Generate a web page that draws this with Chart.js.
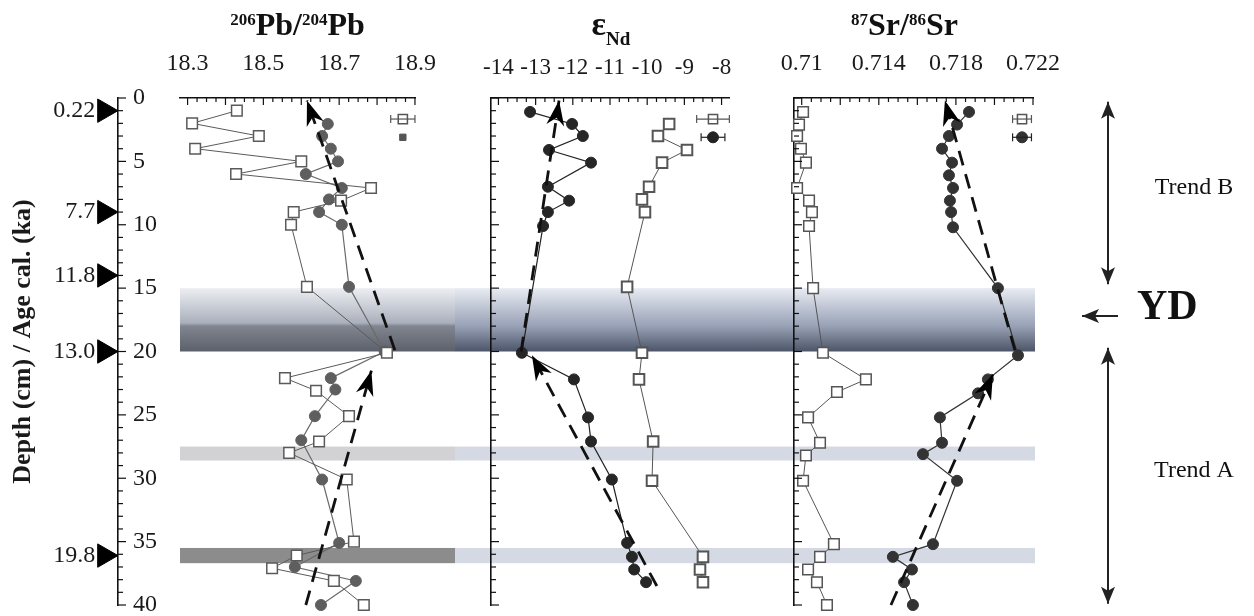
<!DOCTYPE html>
<html>
<head>
<meta charset="utf-8">
<script src="https://cdn.jsdelivr.net/npm/chart.js@4.4.1/dist/chart.umd.min.js"></script>
<style>
    html, body { margin: 0; padding: 0; background: #fff; }
    #wrap { position: relative; width: 1254px; height: 616px; overflow: hidden; }
    canvas { position: absolute; top: 0; }
</style>
</head>
<body>
<div id="wrap">
    <canvas id="depthChart" width="175" height="640" style="left:0px"></canvas>
    <canvas id="pbChart" width="300" height="616" style="left:155px"></canvas>
    <canvas id="ndChart" width="305" height="616" style="left:455px"></canvas>
    <canvas id="srChart" width="494" height="616" style="left:760px"></canvas>
</div>
<script>
// depth axis + calibrated ages
const depthTicks = [0, 5, 10, 15, 20, 25, 30, 35, 40];
const ageLabels = ["0.22", "7.7", "11.8", "13.0", "19.8"];
const ageDepths = [1.0, 9.0, 14.0, 20.0, 36.1];

// shaded horizons (depth cm)
const bandTop = [15, 27.5, 35.5];
const bandBottom = [20, 28.6, 36.7];

// 206Pb/204Pb
const pbTickLabels = [18.3, 18.5, 18.7, 18.9];
const pbSqDepth = [1, 2, 3, 4, 5, 6, 7.1, 8.1, 9, 10, 14.9, 20.1, 22.1, 23.1, 25.1, 27.1, 28, 30.1, 35, 36.1, 37.1, 38.1, 40];
const pbSq = [18.43, 18.312, 18.488, 18.32, 18.60, 18.428, 18.784, 18.705, 18.58, 18.573, 18.615, 18.826, 18.557, 18.639, 18.726, 18.647, 18.568, 18.72, 18.739, 18.588, 18.523, 18.686, 18.765];
const pbCiDepth = [2.05, 3, 4, 5, 6, 7.1, 8, 9, 10, 14.9, 20, 22.1, 23, 25.1, 27, 30.1, 35.1, 37, 38.1, 40];
const pbCi = [18.67, 18.655, 18.678, 18.697, 18.612, 18.707, 18.673, 18.647, 18.707, 18.726, 18.82, 18.678, 18.69, 18.636, 18.60, 18.655, 18.70, 18.583, 18.744, 18.652];
const pbTrendB = [18.847, 18.615];
const pbTrendBDepth = [19.9, 0.2];
const pbTrendA = [18.612, 18.785];
const pbTrendADepth = [40, 21.5];
const pbErr = [18.868, 0.032];

// eps Nd
const ndTickLabels = [-14, -13, -12, -11, -10, -9, -8];
const ndCiDepth = [1.1, 2.05, 3, 4.1, 5.1, 7, 8.1, 9, 10.1, 20.1, 22.2, 25.2, 27.1, 30.1, 35.1, 36.2, 37.2, 38.2];
const ndCi = [-13.15, -12.02, -11.73, -12.64, -11.51, -12.67, -12.10, -12.67, -12.80, -13.37, -11.97, -11.59, -11.51, -10.95, -10.54, -10.41, -10.35, -10.03];
const ndSqDepth = [2.05, 3, 4.1, 5.1, 7, 8, 9, 14.9, 20.1, 22.2, 27.1, 30.2, 36.2, 37.2, 38.2];
const ndSq = [-9.41, -9.71, -8.93, -9.60, -9.95, -10.14, -10.06, -10.54, -10.14, -10.22, -9.84, -9.87, -8.50, -8.58, -8.50];
const ndTrendB = [-13.39, -12.37];
const ndTrendBDepth = [20, 0.2];
const ndTrendA = [-9.74, -13.10];
const ndTrendADepth = [38.5, 20.3];
const ndErrSq = [-8.23, 0.44];
const ndErrCi = [-8.23, 0.32];

// 87Sr/86Sr
const srTickLabels = [0.71, 0.714, 0.718, 0.722];
const srCiDepth = [1.1, 2.1, 3, 4, 5.1, 6.1, 7.1, 8.1, 9, 10.2, 15, 20.3, 22.2, 23.3, 25.2, 27.2, 28.1, 30.2, 35.2, 36.2, 37.2, 38.2, 40];
const srCi = [0.71868, 0.71806, 0.71764, 0.71728, 0.7178, 0.71764, 0.71785, 0.71769, 0.71775, 0.71785, 0.72018, 0.72122, 0.71966, 0.71915, 0.71717, 0.71728, 0.71629, 0.71806, 0.71681, 0.71473, 0.71572, 0.71531, 0.71577];
const srSqDepth = [1.1, 2.1, 3, 4, 5.1, 7.1, 8.1, 9, 10.1, 15, 20.1, 22.2, 23.2, 25.2, 27.2, 28.2, 30.2, 35.2, 36.2, 37.2, 38.2, 40];
const srSq = [0.71007, 0.70986, 0.70976, 0.70996, 0.71022, 0.70976, 0.71038, 0.71053, 0.71038, 0.71059, 0.7111, 0.71333, 0.71183, 0.71033, 0.71095, 0.71022, 0.71007, 0.71167, 0.71095, 0.71033, 0.71079, 0.71131];
const srTrendB = [0.72106, 0.71743];
const srTrendBDepth = [19.9, 0.2];
const srTrendA = [0.71463, 0.71992];
const srTrendADepth = [40, 21.8];
const srErr = [0.72143, 0.00049];

const errDepthSq = 1.66;
const errDepthCi = 3.1;

Chart.defaults.font.family = "'Liberation Serif', 'Times New Roman', serif";
Chart.defaults.color = "#1a1a1a";

const pts = (xs, ys) => xs.map((v, i) => ({ x: v, y: ys[i] }));
const labelFrom = list => v => {
    const hit = list.find(t => Math.abs(t - v) < 1e-7);
    return hit === undefined ? "" : String(hit);
};
// keep the plot box where the layout padding puts it
const fixHeight = h => s => { s.height = h; s.paddingLeft = 0; s.paddingRight = 0; };
const fixWidth = w => s => { s.width = w; s.paddingTop = 0; s.paddingBottom = 0; };

function squares(xs, ys, color, bw) {
    return {
        data: pts(xs, ys), showLine: true, borderColor: color, borderWidth: 1,
        pointStyle: "rect", pointRadius: 7.5, pointBackgroundColor: "#fff",
        pointBorderColor: color, pointBorderWidth: bw, clip: false
    };
}

function circles(xs, ys, color, lineColor) {
    return {
        data: pts(xs, ys), showLine: true, borderColor: lineColor, borderWidth: 1.2,
        pointStyle: "circle", pointRadius: 5.5, pointBackgroundColor: color,
        pointBorderColor: color, pointBorderWidth: 1, clip: false
    };
}

function trend(xs, ys) {
    return {
        data: pts(xs, ys), showLine: true, borderColor: "#111", borderWidth: 2.8,
        borderDash: [15, 9], pointRadius: 0, arrowHead: true, clip: false
    };
}

function errBar(v, e, d, color) {
    return {
        data: [{ x: v - e, y: d }, { x: v + e, y: d }], showLine: true, borderColor: color,
        borderWidth: 1.2, pointStyle: "line", rotation: 90, pointRadius: 4,
        pointBorderColor: color, pointBorderWidth: 1.2, clip: false
    };
}

function bandsPlugin(st) {
    return {
        id: "bands",
        beforeDraw(chart) {
            const { ctx, chartArea: a } = chart;
            const sy = chart.scales.y;
            const x0 = st.fromArea ? a.left : 0;
            const x1 = st.toArea ? a.right + 2 : chart.width;
            ctx.save();
            bandTop.forEach((d, i) => {
                const y0 = sy.getPixelForValue(d);
                const y1 = sy.getPixelForValue(bandBottom[i]);
                if (i === 0) {
                    const g = ctx.createLinearGradient(0, y0, 0, y1);
                    g.addColorStop(0, st.grad[0]);
                    g.addColorStop(0.55, st.grad[1]);
                    g.addColorStop(0.6, st.grad[2]);
                    g.addColorStop(1, st.grad[3]);
                    ctx.fillStyle = g;
                } else {
                    ctx.fillStyle = st.colors[i];
                }
                ctx.fillRect(x0, y0, x1 - x0, y1 - y0);
            });
            ctx.restore();
        }
    };
}

function innerTicksPlugin(o) {
    return {
        id: "innerTicks",
        afterDraw(chart) {
            const { ctx, chartArea: a } = chart;
            const major = (v, s) => Math.abs(v / s - Math.round(v / s)) < 1e-6;
            ctx.save();
            ctx.strokeStyle = "#111";
            ctx.lineWidth = 1.2;
            if (o.xMajor) {
                const sx = chart.scales.x;
                sx.ticks.forEach(t => {
                    const p = sx.getPixelForValue(t.value);
                    const len = major(t.value, o.xMajor) ? 7 : 4;
                    ctx.beginPath();
                    ctx.moveTo(p, a.top);
                    ctx.lineTo(p, a.top + len);
                    ctx.stroke();
                });
            }
            if (o.yMajor) {
                const sy = chart.scales.y;
                const x0 = o.yEdge === "right" ? a.right : a.left;
                sy.ticks.forEach(t => {
                    const p = sy.getPixelForValue(t.value);
                    const len = major(t.value, o.yMajor) ? 8 : 5;
                    ctx.beginPath();
                    ctx.moveTo(x0, p);
                    ctx.lineTo(x0 + len, p);
                    ctx.stroke();
                });
            }
            ctx.restore();
        }
    };
}

const arrowHeadPlugin = {
    id: "arrowHead",
    afterDatasetsDraw(chart) {
        const ctx = chart.ctx;
        chart.data.datasets.forEach((ds, i) => {
            if (!ds.arrowHead) return;
            const el = chart.getDatasetMeta(i).data;
            const tip = el[el.length - 1], prev = el[el.length - 2];
            const ang = Math.atan2(tip.y - prev.y, tip.x - prev.x);
            const L = 25, W = 9;
            ctx.save();
            ctx.translate(tip.x, tip.y);
            ctx.rotate(ang);
            ctx.fillStyle = "#000";
            ctx.beginPath();
            ctx.moveTo(0, 0);
            ctx.lineTo(-L, -W);
            ctx.lineTo(-L * 0.7, 0);
            ctx.lineTo(-L, W);
            ctx.closePath();
            ctx.fill();
            ctx.restore();
        });
    }
};

function titlePlugin(parts, dx) {
    return {
        id: "richTitle",
        afterDraw(chart) {
            const { ctx, chartArea: a } = chart;
            ctx.save();
            ctx.fillStyle = "#111";
            ctx.textBaseline = "alphabetic";
            ctx.textAlign = "left";
            const fonts = parts.map(p => `bold ${p[1]}px 'Liberation Serif'`);
            const widths = parts.map((p, i) => { ctx.font = fonts[i]; return ctx.measureText(p[0]).width; });
            const total = widths.reduce((s, w) => s + w, 0);
            let x = (a.left + a.right) / 2 + dx - total / 2;
            parts.forEach((p, i) => {
                ctx.font = fonts[i];
                ctx.fillText(p[0], x, 35 + p[2]);
                x += widths[i];
            });
            ctx.restore();
        }
    };
}

function panelChart(id, cfg) {
    return new Chart(document.getElementById(id), {
        type: "scatter",
        data: { datasets: cfg.datasets },
        options: {
            responsive: false,
            animation: false,
            events: [],
            layout: { padding: { top: 38, bottom: 11, left: cfg.padLeft, right: cfg.padRight } },
            scales: {
                x: {
                    type: "linear", position: "top", min: cfg.min, max: cfg.max,
                    afterFit: fixHeight(60),
                    grid: { display: true, drawOnChartArea: false, drawTicks: false },
                    border: { display: true, color: "#111", width: 1.6 },
                    ticks: {
                        stepSize: cfg.step, includeBounds: false, autoSkip: false, maxRotation: 0, minRotation: 0,
                        padding: cfg.tickPad, color: "#1a1a1a", font: { size: cfg.tickSize },
                        callback: labelFrom(cfg.labels)
                    }
                },
                y: {
                    type: "linear", reverse: true, min: 0, max: 40, display: true,
                    afterFit: fixWidth(0),
                    grid: { display: true, drawOnChartArea: false, drawTicks: false },
                    border: { display: cfg.showY, color: "#111", width: 1.6 },
                    ticks: { display: false, stepSize: 1, autoSkip: false }
                }
            },
            plugins: { legend: { display: false }, tooltip: { enabled: false } }
        },
        plugins: [
            bandsPlugin(cfg.bands),
            innerTicksPlugin({ xMajor: cfg.major, yMajor: cfg.showY ? 5 : 0, yEdge: "left" }),
            arrowHeadPlugin,
            titlePlugin(cfg.title, cfg.titleDx)
        ].concat(cfg.extra || [])
    });
}

// ---------- depth axis ----------
const agePlugin = {
    id: "ages",
    afterDraw(chart) {
        const { ctx } = chart;
        const sx = chart.scales.x, sy = chart.scales.y;
        ctx.save();
        ctx.fillStyle = "#1a1a1a";
        ctx.font = "24px 'Liberation Serif'";
        ctx.textAlign = "right";
        ctx.textBaseline = "middle";
        ageLabels.forEach((t, i) => ctx.fillText(t, sx.getPixelForValue(0.78), sy.getPixelForValue(ageDepths[i])));
        ctx.translate(23, (sy.top + sy.bottom) / 2 - 10);
        ctx.rotate(-Math.PI / 2);
        ctx.textAlign = "center";
        ctx.font = "bold 26px 'Liberation Serif'";
        ctx.fillText("Depth (cm) / Age cal. (ka)", 0, 0);
        ctx.restore();
    }
};

new Chart(document.getElementById("depthChart"), {
    type: "scatter",
    data: {
        datasets: [{
            data: ageDepths.map(d => ({ x: 0.869, y: d })),
            pointStyle: "triangle", rotation: 90, pointRadius: 13.5,
            pointBackgroundColor: "#000", pointBorderColor: "#000", clip: false
        }]
    },
    options: {
        responsive: false,
        animation: false,
        events: [],
        layout: { padding: { top: 98, bottom: 35, left: 0, right: 0 } },
        scales: {
            x: { type: "linear", min: 0, max: 1, display: false },
            y: {
                type: "linear", position: "right", reverse: true, min: 0, max: 40,
                afterFit: fixWidth(57),
                grid: { display: true, drawOnChartArea: false, drawTicks: false },
                border: { display: true, color: "#111", width: 1.6 },
                ticks: {
                    stepSize: 1, autoSkip: false, padding: 15, color: "#1a1a1a",
                    font: { size: 24 }, callback: labelFrom(depthTicks)
                }
            }
        },
        plugins: { legend: { display: false }, tooltip: { enabled: false } }
    },
    plugins: [innerTicksPlugin({ yMajor: 5, yEdge: "right" }), agePlugin]
});

// ---------- Pb ----------
panelChart("pbChart", {
    min: 18.28, max: 18.9001, step: 0.025, major: 0.1, labels: pbTickLabels, tickSize: 24, tickPad: 20,
    padLeft: 25, padRight: 40, showY: false, titleDx: 0,
    title: [["206", 17, -10], ["Pb", 32, 0], ["/", 32, 0], ["204", 17, -10], ["Pb", 32, 0]],
    bands: { fromArea: true, toArea: false, grad: ["#eceef2", "#aab0bc", "#80858f", "#5b606a"], colors: [null, "#d2d2d4", "#8c8c8c"] },
    datasets: [
        errBar(pbErr[0], pbErr[1], errDepthSq, "#555"),
        { data: [{ x: pbErr[0], y: errDepthSq }], pointStyle: "rect", pointRadius: 6.5, pointBackgroundColor: "#fff", pointBorderColor: "#555", pointBorderWidth: 1.5, clip: false },
        { data: [{ x: pbErr[0], y: errDepthCi }], pointStyle: "rect", pointRadius: 4.5, pointBackgroundColor: "#555", pointBorderColor: "#555", clip: false },
        trend(pbTrendB, pbTrendBDepth),
        trend(pbTrendA, pbTrendADepth),
        squares(pbSq, pbSqDepth, "#5a5a5a", 1.5),
        circles(pbCi, pbCiDepth, "#5e5e5e", "#6a6a6a")
    ]
});

// ---------- eps Nd ----------
panelChart("ndChart", {
    min: -14.2, max: -7.8, step: 0.25, major: 1, labels: ndTickLabels, tickSize: 23, tickPad: 16,
    padLeft: 36, padRight: 31, showY: true, titleDx: 1,
    title: [["\u03b5", 34, 0], ["Nd", 19, 10]],
    bands: { fromArea: false, toArea: false, grad: ["#e8ebf2", "#9ea7bb", "#98a1b5", "#4c5468"], colors: [null, "#d4d9e4", "#d4d9e4"] },
    datasets: [
        errBar(ndErrSq[0], ndErrSq[1], errDepthSq, "#555"),
        { data: [{ x: ndErrSq[0], y: errDepthSq }], pointStyle: "rect", pointRadius: 6.5, pointBackgroundColor: "#fff", pointBorderColor: "#555", pointBorderWidth: 1.5, clip: false },
        errBar(ndErrCi[0], ndErrCi[1], errDepthCi, "#222"),
        { data: [{ x: ndErrCi[0], y: errDepthCi }], pointRadius: 5.5, pointBackgroundColor: "#222", pointBorderColor: "#222", clip: false },
        trend(ndTrendB, ndTrendBDepth),
        trend(ndTrendA, ndTrendADepth),
        squares(ndSq, ndSqDepth, "#555", 2),
        circles(ndCi, ndCiDepth, "#262626", "#222")
    ]
});

// ---------- Sr, plus trend annotations on the right ----------
function arrowLine(ctx, x1, y1, x2, y2, startHead) {
    const head = (tx, ty, ang) => {
        ctx.save();
        ctx.translate(tx, ty);
        ctx.rotate(ang);
        ctx.beginPath();
        ctx.moveTo(0, 0);
        ctx.lineTo(-17, -7);
        ctx.lineTo(-13, 0);
        ctx.lineTo(-17, 7);
        ctx.closePath();
        ctx.fill();
        ctx.restore();
    };
    ctx.beginPath();
    ctx.moveTo(x1, y1);
    ctx.lineTo(x2, y2);
    ctx.stroke();
    const ang = Math.atan2(y2 - y1, x2 - x1);
    head(x2, y2, ang);
    if (startHead) head(x1, y1, ang + Math.PI);
}

const sideNotes = {
    id: "sideNotes",
    afterDraw(chart) {
        const { ctx, chartArea: a } = chart;
        const sy = chart.scales.y;
        const ax = a.right + 75;
        ctx.save();
        ctx.strokeStyle = "#222";
        ctx.fillStyle = "#222";
        ctx.lineWidth = 2;
        arrowLine(ctx, ax, sy.getPixelForValue(0.3), ax, sy.getPixelForValue(14.7), true);
        arrowLine(ctx, ax, sy.getPixelForValue(39.9), ax, sy.getPixelForValue(19.7), true);
        arrowLine(ctx, a.right + 85, sy.getPixelForValue(17.2), a.right + 49, sy.getPixelForValue(17.2), false);
        ctx.fillStyle = "#111";
        ctx.textBaseline = "middle";
        ctx.textAlign = "left";
        ctx.font = "bold 42px 'Liberation Serif'";
        ctx.fillText("YD", a.right + 104, sy.getPixelForValue(16.6));
        ctx.textAlign = "center";
        ctx.font = "24px 'Liberation Serif'";
        ctx.fillText("Trend B", a.right + 161, sy.getPixelForValue(7.1));
        ctx.fillText("Trend A", a.right + 161, sy.getPixelForValue(29.4));
        ctx.restore();
    }
};

panelChart("srChart", {
    min: 0.7096, max: 0.722, step: 0.0005, major: 0.002, labels: srTickLabels, tickSize: 24, tickPad: 20,
    padLeft: 34, padRight: 221, showY: true, titleDx: -9,
    title: [["87", 17, -10], ["Sr", 32, 0], ["/", 32, 0], ["86", 17, -10], ["Sr", 32, 0]],
    bands: { fromArea: false, toArea: true, grad: ["#e8ebf2", "#9ea7bb", "#98a1b5", "#4c5468"], colors: [null, "#d4d9e4", "#d4d9e4"] },
    extra: [sideNotes],
    datasets: [
        errBar(srErr[0], srErr[1], errDepthSq, "#555"),
        { data: [{ x: srErr[0], y: errDepthSq }], pointStyle: "rect", pointRadius: 6.5, pointBackgroundColor: "#fff", pointBorderColor: "#555", pointBorderWidth: 1.5, clip: false },
        errBar(srErr[0], srErr[1], errDepthCi, "#222"),
        { data: [{ x: srErr[0], y: errDepthCi }], pointRadius: 5.5, pointBackgroundColor: "#333", pointBorderColor: "#333", clip: false },
        trend(srTrendB, srTrendBDepth),
        trend(srTrendA, srTrendADepth),
        squares(srSq, srSqDepth, "#555", 1.5),
        circles(srCi, srCiDepth, "#333", "#333")
    ]
});
</script>
</body>
</html>
